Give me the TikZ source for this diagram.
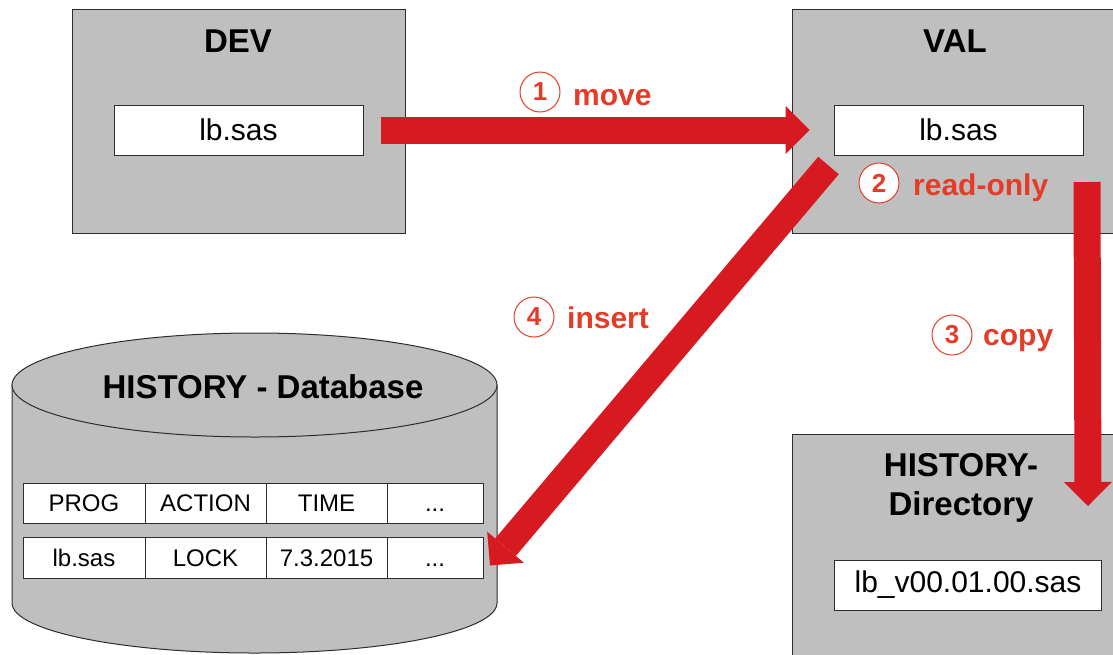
\documentclass[tikz,border=0pt]{standalone}
\usepackage{fontspec}
\setmainfont{Liberation Sans}
\usetikzlibrary{arrows.meta,positioning}

\definecolor{boxgray}{RGB}{191,191,191}
\definecolor{edgegray}{RGB}{45,45,45}
\definecolor{flowred}{RGB}{214,26,32}
\definecolor{labelred}{RGB}{228,60,40}

\tikzset{
  stage/.style={draw=edgegray,line width=1pt,fill=boxgray,inner sep=0pt},
  filebox/.style={draw=edgegray,line width=1pt,fill=white,minimum width=249pt,
    minimum height=50pt,inner sep=0pt,font=\fontsize{30}{36}\selectfont},
  title/.style={inner sep=0pt,font=\fontsize{33}{39}\selectfont\bfseries},
  cell/.style={draw=edgegray,line width=1pt,fill=white,minimum height=40pt,
    text height=17.5pt,text depth=0pt,
    inner sep=0pt,outer sep=0pt,font=\fontsize{24}{28}\selectfont},
  flow/.style={draw=flowred,line width=27pt,
    -{Triangle[length=24pt,width=48pt,line width=0pt]}},
  stepnum/.style={circle,draw=labelred,line width=1pt,fill=white,minimum size=40pt,
    inner sep=0pt,text=labelred,font=\fontsize{26}{30}\selectfont\bfseries},
  steptext/.style={anchor=base west,inner sep=0pt,text=labelred,
    font=\fontsize{30}{36}\selectfont\bfseries},
}

\begin{document}
\begin{tikzpicture}[x=1pt,y=-1pt]
\useasboundingbox (0,0) rectangle (1113,654);

%=== stages: DEV, VAL and the history directory ===
\node[stage,minimum width=333pt,minimum height=224pt] (dev) at (238.5,121) {};
\node[stage,minimum width=338pt,minimum height=224pt] (val) at (961,121) {};
\node[stage,minimum width=338pt,minimum height=236pt] (hdir) at (961,552) {};

\node[title] (devtitle) at (238,41) {DEV};
\node[title] (valtitle) at (955,41) {VAL};
\node[title,align=center] (hdirtitle) at (961,488) {HISTORY-\\Directory};

\node[filebox] (devfile) at (238.5,130) {lb.sas};
\node[filebox] (valfile) at (958.5,130) {lb.sas};
\node[filebox,minimum width=267pt] (hfile) at (968,585) {lb\_v00.01.00.sas};

%=== history database (cylinder) ===
\draw[draw=edgegray,line width=1pt,fill=boxgray]
  (12,385) -- (12,603) arc[start angle=180,end angle=0,x radius=242.5,y radius=50]
  -- (497,385) -- cycle;
\draw[draw=edgegray,line width=1pt,fill=boxgray]
  (254.5,385) ellipse [x radius=242.5,y radius=52];
\node[title] (dbtitle) at (263,387) {HISTORY - Database};

% table: header row
\node[cell,minimum width=122pt] (prog) at (84,503) {PROG};
\node[cell,minimum width=121pt,right=0pt of prog] (action) {ACTION};
\node[cell,minimum width=121pt,right=0pt of action] (time) {TIME};
\node[cell,minimum width=96pt,right=0pt of time] (more) {...};
% table: one entry
\node[cell,minimum width=122pt,minimum height=41pt] (rprog) at (84,557.5) {lb.sas};
\node[cell,minimum width=121pt,minimum height=41pt,right=0pt of rprog] (raction) {LOCK};
\node[cell,minimum width=121pt,minimum height=41pt,right=0pt of raction] (rtime) {7.3.2015};
\node[cell,minimum width=96pt,minimum height=41pt,right=0pt of rtime] (rmore) {...};

%=== numbered steps ===
\node[stepnum] (n1) at (540,92) {1};
\node[steptext] (l1) at (573,105) {move};
\node[stepnum] (n2) at (879,183) {2};
\node[steptext] (l2) at (913,195) {read-only};
\node[stepnum] (n3) at (952,335) {3};
\node[steptext] (l3) at (983,345) {copy};
\node[stepnum] (n4) at (534,317) {4};
\node[steptext] (l4) at (567,328) {insert};

%=== flows ===
\coordinate (insstart) at ([shift={(-5,10)}]valfile.south west);
\coordinate (insend) at ([shift={(7,8)}]rmore.east);
\coordinate (copystart) at (1087,182);
\coordinate (copyend) at (1088,506);

\draw[flow] ([xshift=17pt]devfile.east) -- ([xshift=-24pt]valfile.west);
\draw[flow] (insstart) -- (insend);
\draw[flow] (copystart) -- (copyend);

\end{tikzpicture}
\end{document}
